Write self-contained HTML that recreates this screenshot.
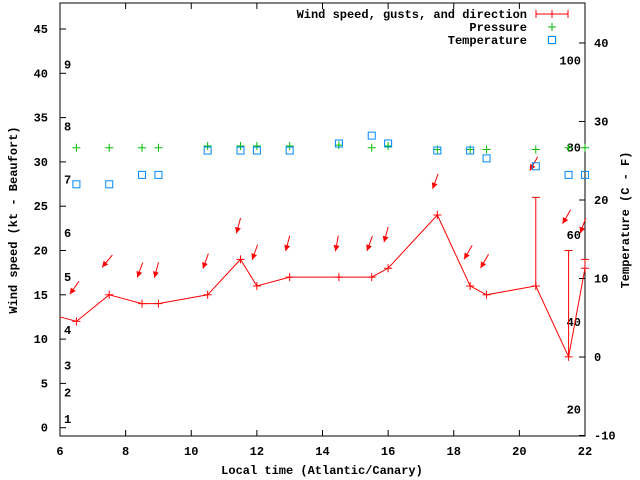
<!DOCTYPE html>
<html><head><meta charset="utf-8"><style>
body{margin:0;background:#fff}
svg{display:block;font-family:"Liberation Mono",monospace;font-size:12px;font-weight:bold}
</style></head><body>
<svg id="c" width="640" height="480" xmlns="http://www.w3.org/2000/svg"></svg>
<script>
const times=[6.5,7.5,8.5,9,10.5,11.5,12,13,14.5,15.5,16,17.5,18.5,19,20.5,21.5,22];
const windKt=[12,15,14,14,15,19,16,17,17,17,18,24,16,15,16,8,18];
const gustKt=[null,null,null,null,null,null,null,null,null,null,null,null,null,null,26,20,19];
const windDir=[35,40,20,15,20,15,20,15,10,20,15,20,30,30,30,30,20];
const pressure=[31.6,31.6,31.6,31.6,31.8,31.8,31.8,31.8,31.9,31.6,31.8,31.4,31.4,31.4,31.4,31.6,31.6];
const tempC=[22,22,23.2,23.2,26.3,26.3,26.3,26.3,27.2,28.2,27.2,26.3,26.3,25.3,24.3,23.2,23.2];
const xTicks=[6,8,10,12,14,16,18,20,22];
const yTicks=[0,5,10,15,20,25,30,35,40,45];
const y2Ticks=[-10,0,10,20,30,40];
const beaufort=[[1,1],[2,4],[3,7],[4,11],[5,17],[6,22],[7,28],[8,34],[9,41]];
const fahr=[20,40,60,80,100];
const L=60,R=585,T=3,B=436;
const X=t=>L+(t-6)/16*(R-L);
const Y=v=>427.7-v*8.86;
const Y2=c=>357-c*7.85;
const svg=document.getElementById('c');
const NS='http://www.w3.org/2000/svg';
function mk(tag,at,parent){const e=document.createElementNS(NS,tag);for(const k in at)e.setAttribute(k,at[k]);(parent||svg).appendChild(e);return e;}
function txt(x,y,s,anchor,name){const e=mk('text',{x:x,y:y,'text-anchor':anchor||'start'});e.textContent=s;

return e;}
const fr=mk('rect',{x:L,y:T,width:R-L,height:B-T,fill:'none',stroke:'#000','stroke-width':1});


xTicks.forEach(t=>{mk('line',{x1:X(t),x2:X(t),y1:B,y2:B-6,stroke:'#000'});mk('line',{x1:X(t),x2:X(t),y1:T,y2:T+6,stroke:'#000'});txt(X(t),455,String(t),'middle','x-tick-label');});
yTicks.forEach(v=>{mk('line',{x1:L,x2:L+6,y1:Y(v),y2:Y(v),stroke:'#000'});txt(L-12,Y(v)+4,String(v),'end','y-tick-label');});
y2Ticks.forEach(v=>{mk('line',{x1:R,x2:R-6,y1:Y2(v),y2:Y2(v),stroke:'#000'});txt(R+9,Y2(v)+4,String(v),'start','y2-tick-label');});
beaufort.forEach(b=>txt(64,Y(b[1])+4,String(b[0]),'start','beaufort-label'));
fahr.forEach(f=>txt(R-4,Y2((f-32)*5/9)+4,String(f),'end','fahrenheit-label'));
txt(322,474,'Local time (Atlantic/Canary)','middle','x-axis-title');
let yt=txt(0,0,'Wind speed (kt - Beaufort)','middle','y-axis-title');yt.setAttribute('transform','translate(17,220) rotate(-90)');
let yt2=txt(0,0,'Temperature (C - F)','middle','y2-axis-title');yt2.setAttribute('transform','translate(629,220) rotate(-90)');
let pts=[[L,Y(12.5)]].concat(times.map((t,i)=>[X(t),Y(windKt[i])]));
const wl=mk('polyline',{points:pts.map(p=>p.join(',')).join(' '),fill:'none',stroke:'#f00','stroke-width':1});


times.forEach((t,i)=>{const x=X(t),y=Y(windKt[i]);
mk('path',{d:`M${x-4},${y}h8M${x},${y-4}v8`,stroke:'#f00'});
if(gustKt[i]!=null){const g=mk('path',{d:`M${x},${y}V${Y(gustKt[i])}M${x-4},${Y(gustKt[i])}h8`,stroke:'#f00'});

}
const top=Math.max(windKt[i],gustKt[i]==null?0:gustKt[i]);
const a=windDir[i]*Math.PI/180,ax=x-2,ay=Y(top+3.8),len=16;
const tx=ax+Math.sin(a)*len/2,ty=ay-Math.cos(a)*len/2,hx=ax-Math.sin(a)*len/2,hy=ay+Math.cos(a)*len/2;
const ar=mk('g',{});


mk('line',{x1:tx,y1:ty,x2:hx,y2:hy,stroke:'#f00'},ar);
const ux=-Math.sin(a),uy=Math.cos(a),px=-uy,py=ux;
mk('polygon',{points:`${hx},${hy} ${hx-ux*6+px*3},${hy-uy*6+py*3} ${hx-ux*6-px*3},${hy-uy*6-py*3}`,fill:'#f00'},ar);
});
times.forEach((t,i)=>{const x=X(t),y=Y(pressure[i]);const p=mk('path',{d:`M${x-4},${y}h8M${x},${y-4}v8`,stroke:'#0b0'});

});
times.forEach((t,i)=>{const x=X(t),y=Y2(tempC[i]);const r=mk('rect',{x:x-3.5,y:y-3.5,width:7,height:7,fill:'none',stroke:'#08f'});

});
txt(527,18,'Wind speed, gusts, and direction','end','legend-wind');
mk('path',{d:'M536,14h32M536,10v8M568,10v8M552,10v8',stroke:'#f00'});
txt(527,31,'Pressure','end','legend-pressure');
mk('path',{d:'M548,27h8M552,23v8',stroke:'#0b0'});
txt(527,44,'Temperature','end','legend-temperature');
mk('rect',{x:548.5,y:36.5,width:7,height:7,fill:'none',stroke:'#08f'});
</script>
</body></html>
